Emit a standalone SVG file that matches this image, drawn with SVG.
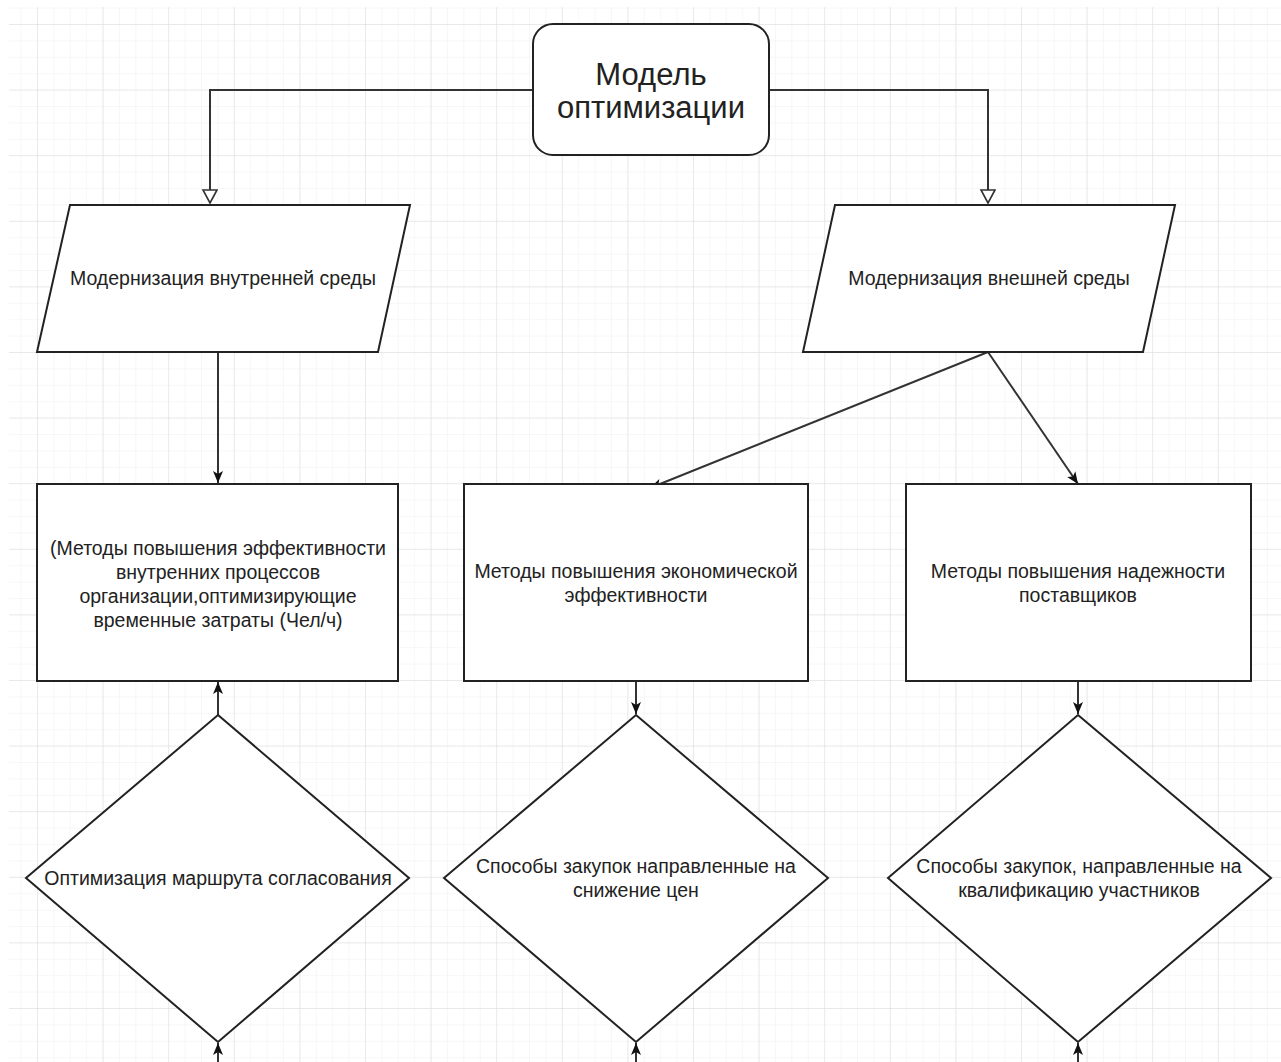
<svg xmlns="http://www.w3.org/2000/svg" width="1281" height="1062" viewBox="0 0 1281 1062">
<defs>
<pattern id="minor" x="37" y="24" width="16.4" height="16.4" patternUnits="userSpaceOnUse">
<path d="M0 0V16.4M0 0H16.4" fill="none" stroke="#efefef" stroke-width="1"/>
</pattern>
<pattern id="major" x="37" y="24" width="65.6" height="65.6" patternUnits="userSpaceOnUse">
<path d="M0 0V65.6M0 0H65.6" fill="none" stroke="#dcdcdc" stroke-width="1"/>
</pattern>
<marker id="hollow" markerWidth="16" markerHeight="18" refX="14" refY="8" orient="auto" markerUnits="userSpaceOnUse">
<path d="M1 1L14 8L1 15Z" fill="#fff" stroke="#333" stroke-width="1.6"/>
</marker>
<marker id="solid" markerWidth="14" markerHeight="12" refX="12" refY="6" orient="auto" markerUnits="userSpaceOnUse">
<path d="M0 1L12 6L0 11L3 6Z" fill="#111"/>
</marker>
</defs>
<style>
.shape{fill:#fff;stroke:#222;stroke-width:2}
.conn{fill:none;stroke:#333;stroke-width:2}
.t{font-family:"Liberation Sans",Arial,sans-serif;font-size:19.5px;fill:#222;text-anchor:middle}
.big{font-size:31px}
</style>
<rect width="1281" height="1062" fill="#fff"/>
<rect x="9" y="7" width="1272" height="1055" fill="url(#minor)"/>
<rect x="9" y="7" width="1272" height="1055" fill="url(#major)"/>

<g id="connectors">
<path class="conn" d="M533 90H210V203" marker-end="url(#hollow)"/>
<path class="conn" d="M769 90H988V203" marker-end="url(#hollow)"/>
<path class="conn" d="M218 352V483" marker-end="url(#solid)"/>
<path class="conn" d="M988 352L650 488" marker-end="url(#solid)"/>
<path class="conn" d="M988 352L1078 484" marker-end="url(#solid)"/>
<path class="conn" d="M218 715V682" marker-end="url(#solid)"/>
<path class="conn" d="M636 681V714" marker-end="url(#solid)"/>
<path class="conn" d="M1078 681V714" marker-end="url(#solid)"/>
<path class="conn" d="M218 1062V1043" marker-end="url(#solid)"/>
<path class="conn" d="M636 1062V1043" marker-end="url(#solid)"/>
<path class="conn" d="M1078 1062V1043" marker-end="url(#solid)"/>
</g>

<g id="node-model">
<rect class="shape" x="533" y="24" width="236" height="131" rx="20"/>
<text class="t big" x="651" y="85">Модель</text>
<text class="t big" x="651" y="118">оптимизации</text>
</g>

<g id="node-internal">
<polygon class="shape" points="70,205 410,205 378,352 37,352"/>
<text class="t" x="223" y="285">Модернизация внутренней среды</text>
</g>

<g id="node-external">
<polygon class="shape" points="835,205 1175,205 1143,352 803,352"/>
<text class="t" x="989" y="285">Модернизация внешней среды</text>
</g>

<g id="node-methods-internal">
<rect class="shape" x="37" y="484" width="361" height="197"/>
<text class="t" x="218" y="555">(Методы повышения эффективности</text>
<text class="t" x="218" y="579">внутренних процессов</text>
<text class="t" x="218" y="603">организации,оптимизирующие</text>
<text class="t" x="218" y="627">временные затраты (Чел/ч)</text>
</g>

<g id="node-methods-econ">
<rect class="shape" x="464" y="484" width="344" height="197"/>
<text class="t" x="636" y="578">Методы повышения экономической</text>
<text class="t" x="636" y="602">эффективности</text>
</g>

<g id="node-methods-suppliers">
<rect class="shape" x="906" y="484" width="345" height="197"/>
<text class="t" x="1078" y="578">Методы повышения надежности</text>
<text class="t" x="1078" y="602">поставщиков</text>
</g>

<g id="node-route">
<polygon class="shape" points="218,715 409,878 218,1042 26,878"/>
<text class="t" x="218" y="885">Оптимизация маршрута согласования</text>
</g>

<g id="node-price">
<polygon class="shape" points="636,715 828,878 636,1042 444,878"/>
<text class="t" x="636" y="873">Способы закупок направленные на</text>
<text class="t" x="636" y="897">снижение цен</text>
</g>

<g id="node-qualification">
<polygon class="shape" points="1078,715 1271,878 1078,1042 888,878"/>
<text class="t" x="1079" y="873">Способы закупок, направленные на</text>
<text class="t" x="1079" y="897">квалификацию участников</text>
</g>
</svg>
